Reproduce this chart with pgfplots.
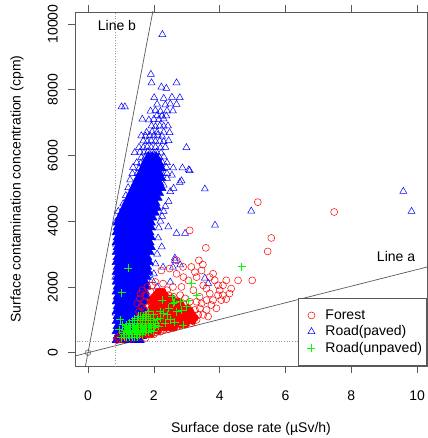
\documentclass[border=0pt]{standalone}
\usepackage{fontspec}
\setmainfont{Liberation Sans}
\usepackage{pgfplots}
\pgfplotsset{compat=1.18}
\definecolor{rblue}{RGB}{0,0,255}
\definecolor{rred}{RGB}{255,0,0}
\definecolor{rgreen}{RGB}{0,255,0}
\pgfplotsset{mylegimg/.style={legend image code/.code={\path[draw=none,fill=none] (-8bp,-5bp) rectangle (4bp,5bp); \draw[##1] plot coordinates {(0bp,0bp)};}}}
\begin{document}
\begin{tikzpicture}[font=\fontsize{14bp}{16.8bp}\selectfont]
\useasboundingbox (-75bp,-72bp) rectangle (353bp,366bp);
\begin{axis}[
  at={(0,0)}, anchor=south west,
  scale only axis, width=352bp, height=354bp,
  xmin=-0.395, xmax=10.30, ymin=-405, ymax=10365,
  xtick={0,2,4,6,8,10}, ytick={0,2000,4000,6000,8000,10000},
  scaled ticks=false,
  /pgf/number format/assume math mode=true,
  /pgf/number format/set thousands separator={},
  axis line style={black!65, line width=0.6bp},
  tick style={black!65, line width=0.6bp},
  tick align=outside, major tick length=7bp,
  xticklabel style={anchor=north, inner sep=0pt, yshift=-18bp},
  yticklabel style={xshift=-10bp, rotate=90, anchor=south, inner sep=0pt},
  xlabel={Surface dose rate (µSv/h)},
  ylabel={Surface contamination concentration (cpm)},
  xlabel style={at={(axis description cs:0.5,-0.178)}, anchor=center},
  ylabel style={at={(axis description cs:-0.165,0.5)}, anchor=center},
  legend cell align=left,
  legend style={at={(1,0)}, anchor=south east, draw=black!65, line width=0.6bp, fill=white,
    inner xsep=4.7bp, inner ysep=12bp, nodes={inner sep=0pt}, row sep=4.7bp,
    /tikz/every odd column/.append style={column sep=10bp}},
]
% legend entries
\addlegendimage{only marks, mark=o, rred, mark size=3.5bp, line width=0.5bp, mylegimg}
\addlegendentry{Forest}
\addlegendimage{only marks, mark=triangle, rblue, mark size=4bp, line width=0.5bp, mylegimg}
\addlegendentry{Road(paved)}
\addlegendimage{only marks, mark=+, rgreen, mark size=4bp, line width=0.6bp, mylegimg}
\addlegendentry{Road(unpaved)}

% dotted reference lines
\addplot[forget plot, black!40, dotted, line width=0.7bp] coordinates {(0.82,-500) (0.82,11000)};
\addplot[forget plot, black!40, dotted, line width=0.7bp] coordinates {(-1,360) (11,360)};

% Road(paved): dense core
\addplot[forget plot, only marks, mark=triangle*, mark size=6.5bp, rblue, line width=0.4bp,
  mark options={fill=rblue}] table {
x y
0.90 400
1.00 400
1.14 400
1.28 400
1.42 400
1.54 400
0.93 530
1.07 530
1.21 530
1.35 530
1.49 530
1.61 530
0.90 680
1.00 680
1.14 680
1.28 680
1.42 680
1.56 680
0.93 830
1.07 830
1.21 830
1.35 830
1.49 830
1.63 830
0.90 980
1.00 980
1.14 980
1.28 980
1.42 980
1.56 980
1.68 980
0.93 1130
1.07 1130
1.21 1130
1.35 1130
1.49 1130
1.63 1130
0.90 1280
1.00 1280
1.14 1280
1.28 1280
1.42 1280
1.56 1280
1.68 1280
0.93 1430
1.07 1430
1.21 1430
1.35 1430
1.49 1430
1.63 1430
0.90 1580
1.00 1580
1.14 1580
1.28 1580
1.42 1580
1.56 1580
1.68 1580
0.93 1730
1.07 1730
1.21 1730
1.35 1730
1.49 1730
1.63 1730
1.74 1730
0.90 1880
1.00 1880
1.14 1880
1.28 1880
1.42 1880
1.56 1880
1.70 1880
0.93 2030
1.07 2030
1.21 2030
1.35 2030
1.49 2030
1.63 2030
1.74 2030
0.90 2180
1.00 2180
1.14 2180
1.28 2180
1.42 2180
1.56 2180
1.70 2180
0.93 2330
1.07 2330
1.21 2330
1.35 2330
1.49 2330
1.63 2330
1.75 2330
0.90 2480
1.00 2480
1.14 2480
1.28 2480
1.42 2480
1.56 2480
1.70 2480
1.80 2480
0.93 2630
1.07 2630
1.21 2630
1.35 2630
1.49 2630
1.63 2630
1.77 2630
0.90 2780
1.00 2780
1.14 2780
1.28 2780
1.42 2780
1.56 2780
1.70 2780
1.82 2780
0.93 2930
1.07 2930
1.21 2930
1.35 2930
1.49 2930
1.63 2930
1.77 2930
0.90 3080
1.00 3080
1.14 3080
1.28 3080
1.42 3080
1.56 3080
1.70 3080
1.84 3080
0.93 3230
1.07 3230
1.21 3230
1.35 3230
1.49 3230
1.63 3230
1.77 3230
1.88 3230
0.90 3380
1.00 3380
1.14 3380
1.28 3380
1.42 3380
1.56 3380
1.70 3380
1.84 3380
0.93 3530
1.07 3530
1.21 3530
1.35 3530
1.49 3530
1.63 3530
1.77 3530
1.88 3530
0.90 3680
1.00 3680
1.14 3680
1.28 3680
1.42 3680
1.56 3680
1.70 3680
1.84 3680
0.93 3830
1.07 3830
1.21 3830
1.35 3830
1.49 3830
1.63 3830
1.77 3830
1.88 3830
0.93 3980
1.04 3980
1.18 3980
1.32 3980
1.46 3980
1.60 3980
1.74 3980
1.88 3980
0.99 4130
1.11 4130
1.25 4130
1.39 4130
1.53 4130
1.67 4130
1.81 4130
1.93 4130
1.06 4280
1.18 4280
1.32 4280
1.46 4280
1.60 4280
1.74 4280
1.88 4280
2.00 4280
1.13 4430
1.25 4430
1.39 4430
1.53 4430
1.67 4430
1.81 4430
1.95 4430
2.06 4430
1.20 4580
1.32 4580
1.46 4580
1.60 4580
1.74 4580
1.88 4580
2.02 4580
1.27 4730
1.39 4730
1.53 4730
1.67 4730
1.81 4730
1.95 4730
2.07 4730
1.34 4880
1.46 4880
1.60 4880
1.74 4880
1.88 4880
2.02 4880
2.13 4880
1.41 5030
1.53 5030
1.67 5030
1.81 5030
1.95 5030
2.09 5030
2.20 5030
1.48 5180
1.60 5180
1.74 5180
1.88 5180
2.02 5180
2.14 5180
1.55 5330
1.67 5330
1.81 5330
1.95 5330
2.09 5330
2.20 5330
1.62 5480
1.74 5480
1.88 5480
2.02 5480
2.14 5480
1.69 5630
1.81 5630
1.95 5630
2.09 5630
2.20 5630
1.76 5780
1.88 5780
2.02 5780
2.14 5780
1.83 5930
1.95 5930
2.07 5930
};

% Road(paved): individual points
\addplot[forget plot, only marks, mark=triangle, mark size=4bp, rblue, line width=0.5bp] table {
x y
1.35 5450
1.50 5450
1.62 5450
1.75 5450
1.88 5450
2.00 5450
2.12 5450
2.25 5450
2.40 5450
1.37 5640
1.55 5600
1.70 5620
1.77 5640
1.90 5600
2.08 5640
2.20 5600
2.38 5640
2.59 5620
2.87 5620
3.06 5560
1.48 5780
1.60 5760
1.72 5800
1.85 5770
1.98 5790
2.10 5760
2.25 5800
2.40 5780
1.62 5940
1.75 5960
1.87 5940
2.00 5920
2.17 5940
2.30 5960
1.42 6090
1.58 6100
1.70 6080
1.82 6110
1.95 6090
2.08 6100
2.22 6080
1.55 6250
1.68 6240
1.80 6260
1.92 6240
2.05 6250
2.20 6230
2.35 6250
2.99 6240
1.68 6445
1.80 6420
1.92 6450
2.05 6430
2.18 6440
2.30 6420
2.45 6450
1.62 6600
1.75 6590
1.88 6610
2.00 6600
2.12 6620
2.25 6590
1.78 6700
1.95 6720
2.10 6700
2.30 6710
2.48 6697
1.93 6900
2.05 6880
2.18 6900
2.30 6890
2.43 6900
1.65 7103
1.85 7080
2.00 7100
2.15 7090
2.30 7110
2.10 7220
2.25 7200
2.38 7203
1.90 7350
2.05 7370
2.20 7340
2.40 7360
2.58 7355
2.10 7560
2.35 7540
2.50 7570
2.69 7558
2.01 7758
2.30 7740
2.55 7770
2.79 7758
2.23 8082
2.38 8042
1.93 8212
2.69 8212
1.91 8470
2.26 9680
1.02 7480
1.12 7480
1.07 4530
1.15 4780
1.22 5020
1.28 5260
1.37 5030
2.13 3490
2.24 3220
2.44 3830
2.69 3630
2.95 3630
2.64 2880
2.80 2670
2.28 2600
2.58 2600
2.64 2810
2.10 3000
2.05 2700
2.00 2400
1.95 2200
2.10 2000
2.20 1800
2.35 1650
2.50 2150
3.55 2270
3.65 2110
3.86 3880
4.96 4310
3.55 4980
2.79 5180
2.84 5230
3.09 5540
9.58 4910
9.83 4300
2.20 4000
2.30 4300
2.45 4600
2.50 4900
2.15 3800
2.25 4150
2.35 4450
2.60 5000
2.40 5300
2.55 5400
2.15 4700
2.30 5100
0.84 1200
0.83 2300
0.85 3300
0.86 4000
0.92 4300
};

% Forest: dense core
\addplot[forget plot, only marks, mark=*, mark size=3.5bp, rred, line width=0.4bp,
  mark options={fill=rred}] table {
x y
1.50 560
1.64 560
1.78 560
1.92 560
1.43 660
1.57 660
1.71 660
1.85 660
1.99 660
2.13 660
1.50 760
1.64 760
1.78 760
1.92 760
2.06 760
2.20 760
2.34 760
2.48 760
2.62 760
1.57 860
1.71 860
1.85 860
1.99 860
2.13 860
2.27 860
2.41 860
2.55 860
2.69 860
2.83 860
2.97 860
1.64 960
1.78 960
1.92 960
2.06 960
2.20 960
2.34 960
2.48 960
2.62 960
2.76 960
2.90 960
3.04 960
3.18 960
1.71 1060
1.85 1060
1.99 1060
2.13 1060
2.27 1060
2.41 1060
2.55 1060
2.69 1060
2.83 1060
2.97 1060
3.11 1060
3.25 1060
1.78 1160
1.92 1160
2.06 1160
2.20 1160
2.34 1160
2.48 1160
2.62 1160
2.76 1160
2.90 1160
3.04 1160
3.18 1160
1.99 1260
2.13 1260
2.27 1260
2.41 1260
2.55 1260
2.69 1260
2.83 1260
2.97 1260
3.11 1260
1.92 1360
2.06 1360
2.20 1360
2.34 1360
2.48 1360
2.62 1360
2.76 1360
2.90 1360
3.04 1360
1.99 1460
2.13 1460
2.27 1460
2.41 1460
2.55 1460
2.69 1460
2.83 1460
1.92 1560
2.06 1560
2.20 1560
2.34 1560
2.48 1560
2.62 1560
2.76 1560
1.99 1660
2.13 1660
2.27 1660
2.41 1660
2.55 1660
2.06 1760
2.20 1760
2.34 1760
2.13 1860
2.27 1860
};

% Forest: individual points
\addplot[forget plot, only marks, mark=o, mark size=3.5bp, rred, line width=0.5bp] table {
x y
0.88 380
0.95 420
0.90 480
1.00 550
1.05 400
1.10 500
1.20 600
1.25 420
1.30 750
1.40 450
1.40 900
1.55 1100
1.60 480
1.70 1300
1.75 450
1.90 1550
2.00 560
2.00 1700
2.20 640
2.20 1850
2.30 700
2.30 1700
2.40 1900
2.45 720
2.45 1750
2.60 760
2.60 1700
2.70 800
2.80 1750
2.85 830
2.90 1500
2.95 860
2.95 1650
3.00 1350
3.10 1250
3.09 1550
3.15 900
3.20 1100
3.25 1300
3.30 1000
3.35 1150
3.39 1700
3.40 1350
3.45 1500
3.50 1150
3.60 1300
3.60 1600
3.65 1100
3.75 1450
3.90 1350
3.70 1800
3.95 1750
4.00 1900
4.20 1630
4.35 1950
4.10 2050
3.60 1950
3.20 1900
3.50 2050
3.30 2300
2.28 2100
2.58 2000
2.84 2000
2.69 2400
2.48 2560
2.23 2500
2.69 2810
2.89 2610
3.14 2610
3.37 2810
3.49 2680
3.58 3190
3.09 3720
3.80 2400
3.85 2200
4.20 2200
4.56 2200
4.99 2200
5.16 4580
5.57 3490
5.46 3080
7.48 4280
1.55 1250
1.62 1400
1.70 1550
1.58 1650
1.75 1750
1.65 1900
1.80 2000
1.85 1400
1.50 1500
1.72 1150
1.90 1850
1.95 2050
2.05 2150
1.60 1800
3.30 1550
3.80 1600
4.05 1600
3.95 2050
3.70 2300
3.45 2500
3.25 2450
3.05 2200
2.90 2300
4.30 1800
4.10 1750
};

% Road(unpaved)
\addplot[forget plot, only marks, mark=+, mark size=4bp, rgreen, line width=0.8bp] table {
x y
1.10 480
1.18 480
1.26 480
1.34 480
1.42 480
1.50 480
1.08 550
1.16 550
1.24 550
1.32 550
1.40 550
1.48 550
1.56 550
1.64 550
1.10 620
1.18 620
1.26 620
1.34 620
1.42 620
1.50 620
1.58 620
1.66 620
1.74 620
1.82 620
1.12 690
1.20 690
1.28 690
1.36 690
1.44 690
1.52 690
1.60 690
1.68 690
1.76 690
1.84 690
1.92 690
1.14 760
1.22 760
1.30 760
1.38 760
1.46 760
1.54 760
1.62 760
1.70 760
1.78 760
1.86 760
1.94 760
2.02 760
1.18 830
1.26 830
1.34 830
1.42 830
1.50 830
1.58 830
1.66 830
1.74 830
1.82 830
1.90 830
1.98 830
2.06 830
1.26 900
1.34 900
1.42 900
1.50 900
1.58 900
1.66 900
1.74 900
1.82 900
1.90 900
1.98 900
2.06 900
1.34 970
1.42 970
1.50 970
1.58 970
1.66 970
1.74 970
1.82 970
1.90 970
1.98 970
1.42 1040
1.50 1040
1.58 1040
1.66 1040
1.74 1040
1.82 1040
1.90 1040
1.52 1110
1.60 1110
1.68 1110
1.76 1110
1.02 1830
1.22 2570
0.98 1000
0.95 700
1.05 850
1.00 450
2.00 1150
2.10 1000
2.20 1250
2.28 1200
2.45 1350
2.59 1500
2.64 1530
2.70 1250
2.50 1000
2.35 900
2.15 800
2.00 650
2.80 1550
3.00 1400
3.15 2110
3.30 1750
2.89 840
2.64 930
4.67 2620
2.55 1700
1.85 1250
1.75 1150
2.25 1600
2.40 1150
2.85 1300
3.05 1600
2.20 1050
};

% origin
\addplot[forget plot, only marks, mark=o, mark size=2.8bp, black!60, line width=0.6bp] coordinates {(0,0)};

% Line a and Line b
\addplot[forget plot, black!65, line width=0.7bp] coordinates {(-0.5,-126.5) (10.5,2656.5)};
\addplot[forget plot, black!65, line width=0.7bp] coordinates {(-0.1,-527) (2.1,11067)};

\node at (axis cs:0.88,9940) {Line b};
\node at (axis cs:9.36,2940) {Line a};
\end{axis}
\end{tikzpicture}
\end{document}
